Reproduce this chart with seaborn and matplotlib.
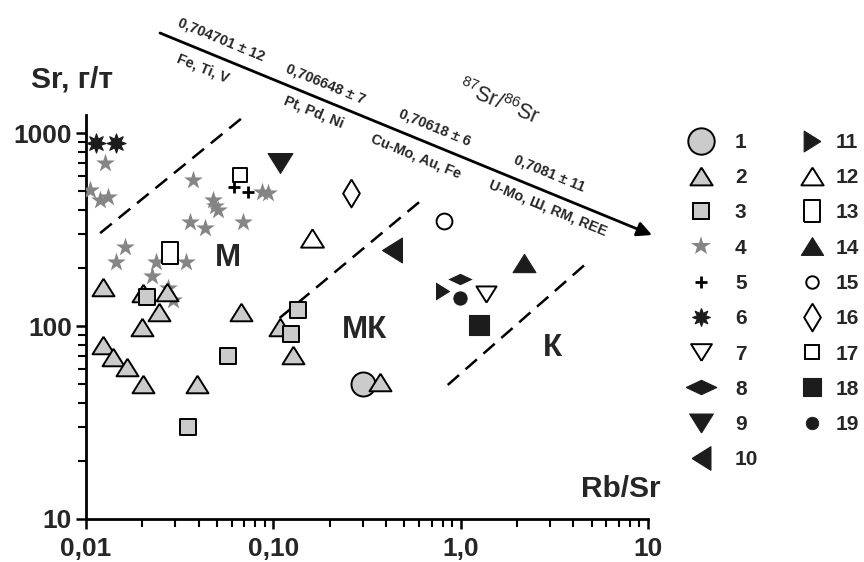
import numpy as np
import pandas as pd
import matplotlib
matplotlib.use("Agg")
import matplotlib.pyplot as plt
from matplotlib.lines import Line2D
from matplotlib.ticker import FixedLocator, FixedFormatter, LogLocator, NullFormatter
import seaborn as sns

# ---- sample groups: Rb/Sr ratio and Sr content (g/t) ----
g01_rbsr = [0.30];  g01_sr = [50]
g02_rbsr = [0.0123, 0.0201, 0.027, 0.0245, 0.0199, 0.067, 0.0123, 0.0139,
            0.0165, 0.0201, 0.039, 0.108, 0.128, 0.37]
g02_sr = [160, 148, 150, 118, 99, 118, 80, 69, 61, 50, 50, 99, 71, 51]
g03_rbsr = [0.0211, 0.057, 0.035, 0.135, 0.125]
g03_sr = [141, 70, 30, 121, 91]
g04_rbsr = [0.0126, 0.0105, 0.0119, 0.0131, 0.0372, 0.0475, 0.0506, 0.049,
            0.0359, 0.0431, 0.0688, 0.0868, 0.0935, 0.0161, 0.0145, 0.0236,
            0.0341, 0.0225, 0.0274, 0.0291]
g04_sr = [700, 507, 450, 466, 571, 450, 399, 420, 346, 322, 346, 495, 489,
          257, 215, 215, 215, 181, 157, 136]
g05_rbsr = [0.062, 0.073];  g05_sr = [525, 495]
g06_rbsr = [0.0113, 0.0145];  g06_sr = [890, 890]
g07_rbsr = [1.36];  g07_sr = [146]
g08_rbsr = [0.99];  g08_sr = [175]
g09_rbsr = [0.108]; g09_sr = [700]
g10_rbsr = [0.43];  g10_sr = [248]
g11_rbsr = [0.80];  g11_sr = [152]
g12_rbsr = [0.160]; g12_sr = [286]
g13_rbsr = [0.028]; g13_sr = [239]
g14_rbsr = [2.19];  g14_sr = [212]
g15_rbsr = [0.81];  g15_sr = [350]
g16_rbsr = [0.26];  g16_sr = [489]
g17_rbsr = [0.066]; g17_sr = [606]
g18_rbsr = [1.25];  g18_sr = [101]
g19_rbsr = [0.99];  g19_sr = [140]

# field boundaries (Rb/Sr, Sr) end points
bound_m_rbsr = [0.0119, 0.068];  bound_m_sr = [303, 1196]
bound_mk_rbsr = [0.108, 0.62];   bound_mk_sr = [110, 450]
bound_k_rbsr = [0.853, 4.58];    bound_k_sr = [49.5, 207]

# field names
field_names = ["М", "МК", "К"]
field_rbsr = [0.0572, 0.307, 3.1]
field_sr = [225, 95.4, 77]

# isotope ratios and ore types along the arrow
ratio_labels = ["0,704701 ± 12", "0,706648 ± 7", "0,70618 ± 6", "0,7081 ± 11"]
ore_labels = ["Fe, Ti, V", "Pt, Pd, Ni", "Cu-Mo, Au, Fe", "U-Mo, Ш, RM, REE"]

x_ticks = [0.01, 0.1, 1, 10]
x_ticklabels = ["0,01", "0,10", "1,0", "10"]
y_ticks = [10, 100, 1000]
y_ticklabels = ["10", "100", "1000"]

groups = {
    1: (g01_rbsr, g01_sr), 2: (g02_rbsr, g02_sr), 3: (g03_rbsr, g03_sr),
    4: (g04_rbsr, g04_sr), 5: (g05_rbsr, g05_sr), 6: (g06_rbsr, g06_sr),
    7: (g07_rbsr, g07_sr), 8: (g08_rbsr, g08_sr), 9: (g09_rbsr, g09_sr),
    10: (g10_rbsr, g10_sr), 11: (g11_rbsr, g11_sr), 12: (g12_rbsr, g12_sr),
    13: (g13_rbsr, g13_sr), 14: (g14_rbsr, g14_sr), 15: (g15_rbsr, g15_sr),
    16: (g16_rbsr, g16_sr), 17: (g17_rbsr, g17_sr), 18: (g18_rbsr, g18_sr),
    19: (g19_rbsr, g19_sr),
}
rows = []
for g, (xs, ys) in groups.items():
    for xv, yv in zip(xs, ys):
        rows.append({"group": g, "rbsr": xv, "sr": yv})
df = pd.DataFrame(rows)

# ---- marker styles ----
GREY = "#cbcbcb"
STAR = "#858585"
DARK = "#1c1c1c"
tri_up = [(0, 0.8), (-1, -0.8), (1, -0.8), (0, 0.8)]
tri_down = [(0, -0.8), (-1, 0.8), (1, 0.8), (0, -0.8)]
tri_left = [(-0.8, 0), (0.8, 1), (0.8, -1), (-0.8, 0)]
tri_right = [(0.8, 0), (-0.8, 1), (-0.8, -1), (0.8, 0)]
dia_wide = [(-1, 0), (0, 0.47), (1, 0), (0, -0.47), (-1, 0)]
dia_tall = [(0, 1), (0.6, 0), (0, -1), (-0.6, 0), (0, 1)]
rect_tall = [(-0.72, -1), (0.72, -1), (0.72, 1), (-0.72, 1), (-0.72, -1)]

# group: marker, size (pt^2), face, edge, edge width, legend markersize
style = {
    1: ("o", 300, GREY, "black", 1.4, 19),
    2: (tri_up, 250, GREY, "black", 1.4, 16),
    3: ("s", 135, GREY, "black", 1.4, 11.5),
    4: ("*", 200, STAR, STAR, 0.0, 15),
    5: ("+", 80, "black", "black", 2.0, 9),
    6: ((8, 1, 0), 190, DARK, DARK, 0.8, 13),
    7: (tri_down, 210, "white", "black", 1.4, 15),
    8: (dia_wide, 380, DARK, "white", 0.8, 22),
    9: (tri_down, 320, DARK, DARK, 0.8, 17),
    10: (tri_left, 320, DARK, DARK, 0.8, 17),
    11: (tri_right, 210, DARK, "white", 0.8, 15),
    12: (tri_up, 270, "white", "black", 1.4, 16),
    13: (rect_tall, 250, "white", "black", 1.4, 16),
    14: (tri_up, 270, DARK, DARK, 0.8, 16),
    15: ("o", 130, "white", "black", 1.4, 9),
    16: (dia_tall, 400, "white", "black", 1.4, 20),
    17: ("s", 100, "white", "black", 1.4, 9.5),
    18: ("s", 210, DARK, DARK, 0.8, 12.5),
    19: ("o", 120, DARK, "white", 0.6, 9),
}
draw_order = [4, 6, 5, 1, 2, 3, 13, 17, 9, 12, 16, 15, 10, 14, 11, 8, 19, 7, 18]

sns.set_theme(style="ticks")
plt.rcParams["font.family"] = ["Liberation Sans", "DejaVu Sans"]
plt.rcParams["mathtext.fontset"] = "custom"
plt.rcParams["mathtext.rm"] = "Liberation Sans"
plt.rcParams["mathtext.it"] = "Liberation Sans:italic"
plt.rcParams["mathtext.bf"] = "Liberation Sans:bold"

W, H = 864, 562
fig = plt.figure(figsize=(W / 100, H / 100), dpi=100)
fig.patch.set_facecolor("white")
ax = fig.add_axes([86 / W, 43 / H, 562 / W, 404 / H])
ax.set_facecolor("white")


def fpx(x, y):
    """figure pixel (from top-left) -> figure fraction"""
    return x / W, 1 - y / H


for z, g in enumerate(draw_order):
    mk, s, fc, ec, lw, _ = style[g]
    sub = df[df["group"] == g]
    if mk == "+":
        sns.scatterplot(data=sub, x="rbsr", y="sr", marker=mk, s=s,
                        color=fc, linewidth=lw, ax=ax, legend=False, zorder=3 + z)
    else:
        sns.scatterplot(data=sub, x="rbsr", y="sr", marker=mk, s=s,
                        color=fc, edgecolor=ec, linewidth=lw, ax=ax,
                        legend=False, zorder=3 + z)

for bx, by in [(bound_m_rbsr, bound_m_sr), (bound_mk_rbsr, bound_mk_sr),
               (bound_k_rbsr, bound_k_sr)]:
    ax.plot(bx, by, color="black", lw=1.8, dashes=(6, 3.5), zorder=2)

for name, xv, yv in zip(field_names, field_rbsr, field_sr):
    ax.text(xv, yv, name, fontsize=22.5, fontweight="bold", ha="center",
            va="center", zorder=30)

ax.set_xscale("log")
ax.set_yscale("log")
ax.set_xlim(0.01, 10)
ax.set_ylim(10, 1240)
ax.xaxis.set_major_locator(FixedLocator(x_ticks))
ax.xaxis.set_major_formatter(FixedFormatter(x_ticklabels))
ax.yaxis.set_major_locator(FixedLocator(y_ticks))
ax.yaxis.set_major_formatter(FixedFormatter(y_ticklabels))
ax.xaxis.set_minor_locator(LogLocator(base=10, subs=np.arange(2, 10)))
ax.yaxis.set_minor_locator(LogLocator(base=10, subs=np.arange(2, 10)))
ax.xaxis.set_minor_formatter(NullFormatter())
ax.yaxis.set_minor_formatter(NullFormatter())
ax.set_xlabel("")
ax.set_ylabel("")
for side in ["top", "right"]:
    ax.spines[side].set_visible(False)
for side in ["left", "bottom"]:
    ax.spines[side].set_linewidth(2.0)
    ax.spines[side].set_color("black")
ax.tick_params(which="major", direction="out", length=7, width=1.8,
               color="black", labelsize=19)
ax.tick_params(axis="x", which="major", pad=6)
ax.tick_params(axis="y", which="major", pad=3)
ax.tick_params(which="minor", direction="out", length=6, width=1.5,
               color="black")
for lab in ax.get_xticklabels() + ax.get_yticklabels():
    lab.set_fontweight("bold")
ax.grid(False)

# axis titles
fig.text(*fpx(72, 80), "Sr, г/т", fontsize=21.5, fontweight="bold",
         ha="center", va="center")
fig.text(*fpx(621, 489), "Rb/Sr", fontsize=21.5, fontweight="bold",
         ha="center", va="center")

# isotope arrow
p0, p1 = (160, 33), (652, 235)
ang = -np.degrees(np.arctan2(p1[1] - p0[1], p1[0] - p0[0]))
ax.annotate("", xy=fpx(*p1), xytext=fpx(*p0), xycoords="figure fraction",
            textcoords="figure fraction",
            arrowprops=dict(arrowstyle="-|>", lw=2.0, color="black",
                            mutation_scale=22, shrinkA=0, shrinkB=0))
above = [(221, 40), (326, 84), (435, 127), (549, 173)]
below = [(203, 68), (314, 112), (416, 156), (548, 208)]
for txt, (x, y) in zip(ratio_labels, above):
    fig.text(*fpx(x, y), txt, fontsize=10.4, fontweight="bold", rotation=ang,
             rotation_mode="anchor", ha="center", va="center")
for txt, (x, y) in zip(ore_labels, below):
    fig.text(*fpx(x, y), txt, fontsize=10.4, fontweight="bold", rotation=ang,
             rotation_mode="anchor", ha="center", va="center")
fig.text(*fpx(499, 102), r"$^{87}$Sr/$^{86}$Sr", fontsize=15.5, rotation=ang,
         rotation_mode="anchor", ha="center", va="center")


# legend: two columns
def legend_handle(g):
    mk, s, fc, ec, lw, ms = style[g]
    if mk == "+":
        return Line2D([], [], linestyle="none", marker=mk, markersize=ms,
                      color=fc, markeredgewidth=lw)
    return Line2D([], [], linestyle="none", marker=mk, markersize=ms,
                  markerfacecolor=fc,
                  markeredgecolor=ec if ec != "white" else fc,
                  markeredgewidth=lw)


legend_cols = [(range(1, 11), 690.6, 1.13), (range(11, 20), 801.6, 0.65)]
for ids, left, pad in legend_cols:
    leg = fig.legend([legend_handle(g) for g in ids], [str(g) for g in ids],
                     loc="upper left", bbox_to_anchor=fpx(left, 133),
                     frameon=False, prop={"size": 15, "weight": "bold"},
                     handlelength=1.0, handletextpad=pad, labelspacing=0.78,
                     borderpad=0, borderaxespad=0)

fig.savefig("out.png", dpi=100, facecolor="white")
